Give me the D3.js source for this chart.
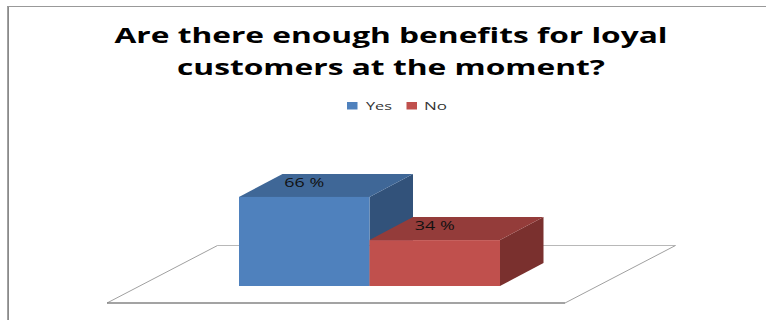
<!DOCTYPE html>
<html>
<head>
<meta charset="utf-8">
<script src="https://cdn.jsdelivr.net/npm/d3@7/dist/d3.min.js"></script>
<style>
  html, body { margin: 0; padding: 0; background: #fff; }
  svg { display: block; }
  text { font-family: "Open Sans", "DejaVu Sans", sans-serif; }
</style>
</head>
<body>
<svg id="chart" width="766" height="320"></svg>
<script>
const categories = ["Yes", "No"];
const values = [66, 34];
const valueLabels = ["66 %", "34 %"];
const titleLines = ["Are there enough benefits for loyal", "customers at the moment?"];
const frontColors = ["#4f81bd", "#c0504d"];
const topColors = ["#3f6797", "#943c3a"];
const sideColors = ["#32527a", "#7a302e"];

const width = 766, height = 320;
const svg = d3.select("#chart");

const x = d3.scaleBand().domain(categories).range([239, 500]).padding(0);
const y = d3.scaleLinear().domain([0, 100]).range([286, 151]);
const depth = { dx: 43.5, dy: -23 };
const line = d3.line();

// Chart frame: heavier left rule, thinner top rule
svg.append("path")
  .attr("d", line([[8.1, height], [8.1, 6]]))
  .attr("fill", "none").attr("stroke", "#8a8a8a").attr("stroke-width", 1.8);
svg.append("path")
  .attr("d", line([[7.2, 6.5], [width, 6.5]]))
  .attr("fill", "none").attr("stroke", "#999").attr("stroke-width", 1.2);

// Floor of the 3D plot
const floor = { frontY: 303, backY: 245.5, left: 107, right: 565, dx: 110.5 };
svg.append("path")
  .attr("d", line([[floor.left + floor.dx, floor.backY], [floor.right + floor.dx, floor.backY]]))
  .attr("fill", "none").attr("stroke", "#b8b8b8").attr("stroke-width", 1);
svg.append("path")
  .attr("d", line([[floor.left, floor.frontY], [floor.left + floor.dx, floor.backY]]))
  .attr("fill", "none").attr("stroke", "#a0a0a0").attr("stroke-width", 1);
svg.append("path")
  .attr("d", line([[floor.right, floor.frontY], [floor.right + floor.dx, floor.backY]]))
  .attr("fill", "none").attr("stroke", "#a0a0a0").attr("stroke-width", 1);
svg.append("path")
  .attr("d", line([[floor.left, floor.frontY], [floor.right, floor.frontY]]))
  .attr("fill", "none").attr("stroke", "#858585").attr("stroke-width", 1.4);

// Boxes, left to right so that each one overlaps the previous depth faces
const bars = svg.append("g").selectAll("g")
  .data(categories.map((c, i) => ({ c, i, v: values[i] })))
  .join("g");

bars.append("path") // right face
  .attr("fill", d => sideColors[d.i])
  .attr("d", d => {
    const r = x(d.c) + x.bandwidth();
    return line([[r, y(d.v)], [r + depth.dx, y(d.v) + depth.dy],
                 [r + depth.dx, y(0) + depth.dy], [r, y(0)]]) + "Z";
  });
bars.append("path") // top face
  .attr("fill", d => topColors[d.i])
  .attr("d", d => {
    const l = x(d.c), r = l + x.bandwidth();
    return line([[l, y(d.v)], [l + depth.dx, y(d.v) + depth.dy],
                 [r + depth.dx, y(d.v) + depth.dy], [r, y(d.v)]]) + "Z";
  });
bars.append("rect") // front face
  .attr("fill", d => frontColors[d.i])
  .attr("x", d => x(d.c))
  .attr("y", d => y(d.v))
  .attr("width", x.bandwidth())
  .attr("height", d => y(0) - y(d.v));

// Value labels sit on the top faces
svg.append("g").selectAll("text")
  .data(categories.map((c, i) => ({ c, i, v: values[i] })))
  .join("text")
  .attr("x", d => x(d.c) + x.bandwidth() / 2)
  .attr("y", d => y(d.v) - 9.7)
  .attr("text-anchor", "middle")
  .attr("font-size", 13.5)
  .attr("fill", "#111")
  .attr("textLength", 40)
  .attr("lengthAdjust", "spacingAndGlyphs")
  .text(d => valueLabels[d.i]);

// Title, stretched to its two line widths
const titleLayout = [{ y: 42.5, len: 553 }, { y: 74.5, len: 428 }];
svg.append("g").selectAll("text")
  .data(titleLines)
  .join("text")
  .attr("x", 391)
  .attr("y", (d, i) => titleLayout[i].y)
  .attr("text-anchor", "middle")
  .attr("font-size", 22)
  .attr("font-weight", "bold")
  .attr("fill", "#000")
  .attr("textLength", (d, i) => titleLayout[i].len)
  .attr("lengthAdjust", "spacingAndGlyphs")
  .text(d => d);

// Legend
const legendX = d3.scaleOrdinal().domain(categories).range([347, 406.5]);
const legendTextLen = [26, 23];
const legend = svg.append("g").selectAll("g").data(categories).join("g");
legend.append("rect")
  .attr("x", d => legendX(d)).attr("y", 102)
  .attr("width", 10.5).attr("height", 7.5)
  .attr("fill", (d, i) => frontColors[i]);
legend.append("text")
  .attr("x", d => legendX(d) + (d === "Yes" ? 19 : 17.5)).attr("y", 110)
  .attr("font-size", 10.5)
  .attr("fill", "#333")
  .attr("textLength", (d, i) => legendTextLen[i])
  .attr("lengthAdjust", "spacingAndGlyphs")
  .text(d => d);
</script>
</body>
</html>
